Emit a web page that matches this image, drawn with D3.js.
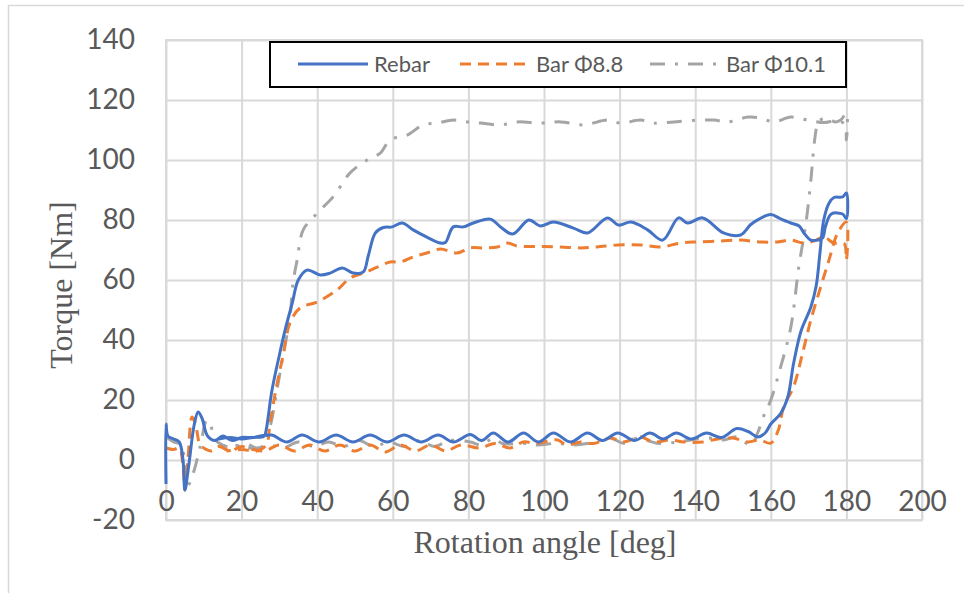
<!DOCTYPE html>
<html>
<head>
<meta charset="utf-8">
<script src="https://cdn.jsdelivr.net/npm/d3@7"></script>
<style>
  body { margin: 0; background: #fff; }
  svg { display: block; }
</style>
</head>
<body>
<div id="chart"></div>
<script>
// axis ticks
const xTicks = [0, 20, 40, 60, 80, 100, 120, 140, 160, 180, 200];
const yTicks = [-20, 0, 20, 40, 60, 80, 100, 120, 140];
const seriesNames = ["Rebar", "Bar \u03A68.8", "Bar \u03A610.1"];

// [rotation angle deg, torque Nm], in recorded order (low branch out, high branch back)
const rebar = [
  [0,-8],[0,12],[0.5,8],[2,7],[3.5,6],[4.5,0],[5,-10],[6,-2],[7.5,12],[8.5,16],[9.5,14],[11,8],
  [13,6.5],[15,8],[17.5,6.5],[20,7.5],[23,7.5],[25,8],[28,8.3],[32,6],[36,8.3],[40.5,6],[45,8.3],
  [49.5,6],[54,8.3],[58.5,6],[63,8.3],[67.5,6],[72,8.3],[76,6],[80.5,8.5],[83.5,6.5],[86.6,9],
  [90.5,6],[94.6,9],[98.5,6],[102.5,9],[107,6],[111.5,9],[115.5,6.5],[119.5,9],[124,6.5],[128,9],
  [131.5,7],[135,9],[139,7],[143,9],[147,7.5],[151,10.5],[154,9.5],[156.5,7.7],[158.5,9],[160,12],
  [162.6,15.5],[164.5,21],[166,32],[168,43],[170.6,51],[172,58],[173,69],[174,80],[175.4,85.6],
  [176.7,87.5],[179,87.7],[180,89],[180,80.5],[179,82],[176,82],[174.5,78],[173.7,74],[172.4,73.3],
  [170.6,73.3],[168.8,75.6],[167.5,78],[165.3,79],[162.6,80.4],[160,81.8],[157,80.4],[154.7,78.5],
  [152,75],[147.5,75.7],[142,80.7],[138,79],[135.6,80.7],[131.4,73.3],[127.4,76.7],[123,79.3],
  [119.7,78.3],[116.8,80.7],[111.5,75.7],[107.8,77.3],[102.5,79.3],[99,78],[96,80],[91.7,75.3],
  [88.5,77.7],[85.8,80.3],[81.3,79],[78.7,77.7],[76,77.7],[73.9,72.5],[72.6,72.3],[69,74.3],
  [65.4,76.7],[62.5,79],[59.8,77.7],[57.5,77.5],[55.4,75.7],[53.5,68],[52.2,62.7],[49.5,62.3],
  [46.6,64],[43.4,62.3],[40.8,61.7],[37.3,63.3],[35,60],[33.4,52.3],[31.5,43.3],[30,35],[28,23],
  [26.5,10],[26,8],[23,7.5],[20,7],[17,7.5],[14,7]
];

const bar88 = [
  [0,4],[2,3.5],[3.5,4],[4.5,-2],[5,-10],[5.8,0],[6.9,14.3],[7.8,12],[9,5],[10,4],[12,3],[14,4.5],
  [17,3],[20,4.5],[23,3.5],[26,3],[30,5],[34,3],[38,5],[42,3],[46,5],[50,3],[54,5],[58,2.7],[62,5],
  [66,3],[70,5],[74,3],[78,5],[83,4],[87,5.5],[91,4],[94.5,6],[98,5.6],[103.6,6.7],[106,5],[109.7,6],
  [113,5.5],[117.6,7.3],[121,6],[125.6,7.7],[129,6],[133.5,6.7],[137,6],[142,6],[146,7],[150,7.3],
  [154,6],[157,6.7],[160,5.6],[162,10],[163.4,17.8],[166,24.3],[168.4,35.6],[170.6,46.7],
  [173.2,57.7],[175.4,66.7],[177.7,75.7],[180,79.3],[180,66.7],[179.5,72],[178.5,72.3],[176.7,72.3],
  [174,74.3],[172,73.3],[168.8,72.3],[165.3,73.3],[161.8,72.7],[157,72.7],[152,73.3],[146.8,73],
  [140.6,72.7],[136,72.3],[130.9,71],[125.6,71.7],[119.5,71.7],[114,71],[109.7,70.7],[104.4,71],
  [99,71.2],[93,71.3],[90.3,72.3],[87.7,71],[84,70.7],[80.5,70.7],[77,69],[72.6,70.3],[69,69],
  [65.4,67.7],[62,66],[59.3,66],[55.9,64.3],[52.2,62.3],[48.7,60.7],[45.3,56.7],[40,52.7],
  [35.5,50.7],[32.8,45.7],[31,35],[29,23],[27.5,12],[26.5,5],[24,3],[20,3.5],[16,3]
];

const bar101 = [
  [0,7.7],[2,6],[4,5],[5.5,-9],[7.2,-4.4],[9,4.3],[10.8,13.3],[11.7,12],[13,6.7],[15,5],[18,4],
  [21,5.5],[24,4],[27,5],[31,4],[35,6],[39,4.5],[43,6],[47,4.5],[51,6.5],[55,4.5],[59,6],[63,4.5],
  [67,6.5],[71,4.5],[75,6.5],[80.5,6],[83.5,5],[86.6,7.3],[89,5.5],[94.6,5.6],[98.2,5],[103.6,5.6],
  [107,5],[112,5.6],[117.6,7.3],[121,5.6],[124.7,7.3],[130,5.6],[135.4,6],[138.8,6.7],[144,7.3],
  [147.5,6.7],[151,7.7],[154.7,5],[156.5,9],[158,14.3],[160,20],[162.6,31],[165.3,44.3],[167.4,64.3],
  [169.3,79],[170.6,93.3],[171.6,106.7],[172.4,112.3],[173,113.3],[175,114],[177,112.7],[178.5,113.3],
  [180,115.7],[180,106.7],[179.5,112],[177,113],[174,112.5],[169.8,113.3],[165.3,114.3],[160.8,112.7],
  [157.3,114],[154,114.3],[148.6,112.7],[145,113.3],[140.6,113.3],[134.3,112.7],[129,112.3],
  [125.6,113.3],[120.3,112.3],[116.8,113.3],[110.5,111.7],[104.4,112.7],[99,112.3],[93,112.7],
  [88.5,111.7],[83.2,112.3],[79.7,112.7],[76,113.3],[71.8,112.3],[68,111.7],[63.8,108.3],[59.3,106.7],
  [56.7,102.3],[53.2,100],[48.7,95.7],[44.2,87.7],[40,82.3],[36.3,76.7],[34.7,66.7],[33.6,59],
  [32.8,47.7],[31,35],[29.3,23],[27.5,11],[25.5,4.5],[22,4],[18,5],[14,4.5]
];

const width = 964, height = 593;
const plot = {left: 166, right: 922, top: 40, bottom: 520};
const textGray = "#595959", gridGray = "#d9d9d9";

const series = [
  {name: seriesNames[0], data: rebar, color: "#4472c4", dash: null},
  {name: seriesNames[1], data: bar88, color: "#ed7d31", dash: "11,7"},
  {name: seriesNames[2], data: bar101, color: "#a5a5a5", dash: "15,10,3,10"},
];

const x = d3.scaleLinear().domain([0, 200]).range([plot.left, plot.right]);
const y = d3.scaleLinear().domain([-20, 140]).range([plot.bottom, plot.top]);

const svg = d3.select("#chart")
  .append("svg")
  .attr("width", width)
  .attr("height", height);

// chart area frame (runs off the picture at right and bottom)
svg.append("rect")
  .attr("x", 8.5).attr("y", 5.5)
  .attr("width", 975).attr("height", 620)
  .attr("fill", "#fff")
  .attr("stroke", gridGray)
  .attr("stroke-width", 1.5);

// gridlines
svg.append("g")
  .attr("transform", `translate(0,${plot.bottom})`)
  .call(d3.axisBottom(x).tickValues(xTicks).tickSize(-(plot.bottom - plot.top)).tickFormat(""))
  .call(g => g.select(".domain").remove())
  .call(g => g.selectAll("line").attr("stroke", gridGray).attr("stroke-width", 2));

svg.append("g")
  .attr("transform", `translate(${plot.left},0)`)
  .call(d3.axisLeft(y).tickValues(yTicks).tickSize(-(plot.right - plot.left)).tickFormat(""))
  .call(g => g.select(".domain").remove())
  .call(g => g.selectAll("line").attr("stroke", gridGray).attr("stroke-width", 2));

svg.append("rect")
  .attr("x", plot.left).attr("y", plot.top)
  .attr("width", plot.right - plot.left).attr("height", plot.bottom - plot.top)
  .attr("fill", "none")
  .attr("stroke", gridGray)
  .attr("stroke-width", 2);

// tick labels (plain hyphen for negatives, as in the source)
const fmt = d => String(d);
const xAxis = svg.append("g")
  .attr("transform", `translate(0,${y(0)})`)
  .call(d3.axisBottom(x).tickValues(xTicks).tickFormat(fmt).tickSize(0).tickPadding(31));
const yAxis = svg.append("g")
  .attr("transform", `translate(${plot.left},0)`)
  .call(d3.axisLeft(y).tickValues(yTicks).tickFormat(fmt).tickSize(0).tickPadding(31));

[xAxis, yAxis].forEach(g => {
  g.select(".domain").remove();
  g.selectAll("text")
    .attr("fill", textGray)
    .style("font-family", "Lato, 'Open Sans', sans-serif")
    .style("font-size", "28px");
});

// axis titles
svg.append("text")
  .attr("x", 545).attr("y", 553)
  .attr("text-anchor", "middle")
  .attr("fill", textGray)
  .style("font-family", "'Liberation Serif', 'Times New Roman', serif")
  .style("font-size", "32px")
  .text("Rotation angle [deg]");

svg.append("text")
  .attr("transform", "translate(72,285) rotate(-90)")
  .attr("text-anchor", "middle")
  .attr("fill", textGray)
  .style("font-family", "'Liberation Serif', 'Times New Roman', serif")
  .style("font-size", "32px")
  .text("Torque [Nm]");

// data lines
const line = d3.line()
  .x(d => x(d[0]))
  .y(d => y(d[1]))
  .curve(d3.curveCatmullRom.alpha(0.5));

svg.append("g")
  .selectAll("path")
  .data(series.slice().reverse())
  .join("path")
  .attr("d", d => line(d.data))
  .attr("fill", "none")
  .attr("stroke", d => d.color)
  .attr("stroke-width", 3)
  .attr("stroke-linejoin", "round")
  .attr("stroke-dasharray", d => d.dash);

// legend
const legend = svg.append("g");
legend.append("rect")
  .attr("x", 270).attr("y", 42)
  .attr("width", 576).attr("height", 45)
  .attr("fill", "#fff")
  .attr("stroke", "#000")
  .attr("stroke-width", 2);

const legendX = [298, 460, 650];
const item = legend.selectAll("g.item")
  .data(series)
  .join("g")
  .attr("class", "item")
  .attr("transform", (d, i) => `translate(${legendX[i]},64)`);

item.append("line")
  .attr("x1", 0).attr("x2", 70)
  .attr("stroke", d => d.color)
  .attr("stroke-width", 3)
  .attr("stroke-dasharray", d => d.dash);

item.append("text")
  .attr("x", 76).attr("y", 8)
  .attr("fill", textGray)
  .style("font-family", "Lato, 'Open Sans', sans-serif")
  .style("font-size", "22px")
  .text(d => d.name);
</script>
</body>
</html>
